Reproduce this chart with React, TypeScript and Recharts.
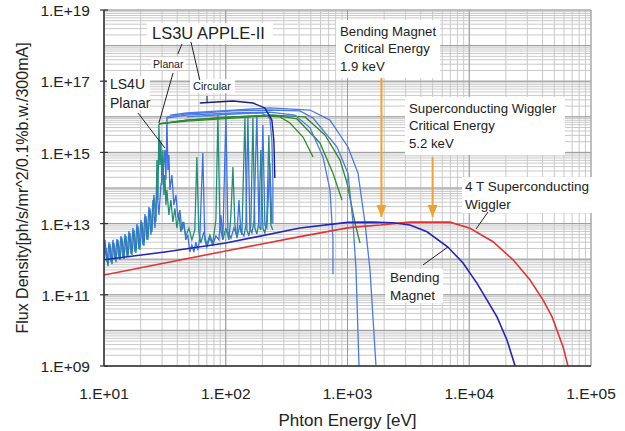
import React from 'react';
import { LineChart, Line, XAxis, YAxis, CartesianGrid, ReferenceLine, ReferenceDot, Label } from 'recharts';

// ---------- data: [photon energy eV, flux density] ----------
const bendingMagnet: [number, number][] = [
  [10, 9.6e11], [31.6, 1.6e12], [100, 2.85e12], [407, 7.5e12], [1000, 1.08e13], [1600, 1.1e13],
  [2366, 1.06e13], [3260, 9.1e12], [4500, 5.9e12], [6680, 2.2e12], [8890, 7.8e11], [11590, 2.1e11],
  [14000, 7.1e10], [16900, 2.4e10], [20400, 5.4e9], [23800, 1e9],
];
const wiggler4T: [number, number][] = [
  [10, 3.6e11], [100, 1.7e12], [407, 4.3e12], [1000, 7.6e12], [1268, 8.2e12], [1870, 9.1e12],
  [2366, 1.0e13], [3260, 1.1e13], [6950, 1.1e13], [10140, 7.4e12], [15670, 3.1e12], [22900, 9.6e11],
  [31600, 2.6e11], [40400, 7.1e10], [47900, 2.4e10], [58900, 3.5e9], [64700, 1e9],
];
const ls4uSpectrum: [number, number][] = [
  [10, 8.3e11], [10.38, 2.07e12], [10.78, 6.4e11], [11.2, 2.7e12], [11.63, 7.3e11], [12.07, 2.85e12],
  [12.54, 8.3e11], [13.02, 3.5e12], [13.53, 9.5e11], [14.05, 3.9e12], [14.59, 1.01e12], [15.15, 4.5e12],
  [15.73, 1.15e12], [16.34, 5.4e12], [16.97, 1.31e12], [17.62, 6.6e12], [18.3, 1.49e12], [19.0, 8.6e12],
  [19.73, 1.81e12], [20.5, 1.11e13], [21.28, 2.35e12], [22.1, 1.64e13], [22.96, 3.5e12], [23.84, 2.7e13],
  [24.76, 5.8e12], [25.71, 6.4e13], [26.7, 1.11e13], [27.2, 6.1e14], [27.72, 4.6e13], [28.25, 6.3e15],
  [28.79, 4.4e14], [29.34, 2.2e15], [29.9, 1.21e14], [30.47, 1.17e15], [31.05, 6.4e13], [31.64, 2.3e14],
  [32.24, 3.3e13], [32.86, 8.8e13], [34.12, 1.75e13], [35.44, 4.6e13], [36.8, 1.11e13], [38.22, 2.7e13],
  [39.69, 7.5e12], [41.21, 1.75e13], [42.8, 5.8e12], [44.4, 1.11e13], [47.0, 4.5e12], [49.8, 7.5e12],
  [52.7, 3.5e12], [55.7, 6.6e12], [57.9, 7.4e14], [60.1, 5.8e12], [62.4, 2.85e12], [66.1, 5.8e12],
  [69.9, 2.5e12], [74.0, 4.8e12], [78.3, 2.85e12], [83.0, 1.26e13], [86.2, 1.12e16], [89.5, 9.1e12],
  [94.7, 3.5e12], [100.3, 7.5e12], [106.2, 3.5e12], [110.3, 1.75e13], [114.5, 3.9e14], [118.9, 9.1e12],
  [123.5, 3.9e12], [130.7, 9.1e12], [135.7, 4.8e12], [143.6, 9.2e15], [149.2, 6.6e12], [154.9, 4.5e12],
  [160.8, 9.1e12], [167.0, 9.2e15], [173.4, 7.5e12], [180.1, 5.1e12], [187.1, 1.11e13], [194.3, 1.17e15],
  [201.8, 7.5e12], [209.6, 5.4e12], [217.6, 1.26e13], [226.0, 3.1e15], [234.7, 9.1e12], [243.7, 6.6e12],
];
const ls3uSpectrum: [number, number][] = [
  [10, 1.31e12], [10.19, 3.5e12], [10.58, 8.3e11], [10.99, 3.0e12], [11.41, 8.3e11], [11.85, 3.5e12],
  [12.3, 9.5e11], [12.78, 3.7e12], [13.27, 1.08e12], [13.78, 4.5e12], [14.31, 1.15e12], [14.87, 5.1e12],
  [15.44, 1.23e12], [16.03, 6.2e12], [16.65, 1.4e12], [17.29, 7.5e12], [17.96, 1.59e12], [18.65, 9.7e12],
  [19.37, 1.94e12], [20.11, 1.26e13], [20.89, 2.5e12], [21.69, 1.86e13], [22.53, 3.5e12], [23.39, 2.9e13],
  [24.3, 4.8e12], [25.23, 4.6e13], [26.2, 7.5e12], [27.2, 8.8e13], [28.25, 1.75e13], [29.34, 1.21e14],
  [30.47, 2.3e14], [31.64, 1.17e15], [32.24, 1.68e14], [32.86, 9.9e15], [33.48, 3.2e14], [34.12, 8.5e14],
  [34.77, 8.8e13], [36.11, 2.3e14], [37.5, 3.3e13], [38.95, 6.4e13], [40.44, 1.44e13], [42.0, 2.4e13],
  [43.6, 6.6e12], [45.3, 1.11e13], [47.0, 3.5e12], [48.8, 4.8e12], [50.7, 1.59e12], [52.7, 2.5e12],
  [54.7, 1.59e12], [56.8, 3.0e12], [59.0, 1.81e12], [61.2, 3.9e12], [64.8, 9.6e14], [67.3, 3.5e12],
  [69.9, 2.2e12], [74.0, 3.9e12], [78.3, 2.5e12], [83.0, 4.5e12], [87.8, 3.5e12], [91.2, 1.75e13],
  [94.7, 3.9e12], [100.3, 1.12e16], [104.2, 5.8e12], [110.3, 3.9e12], [116.7, 7.5e12], [123.5, 4.5e12],
  [128.3, 4.6e13], [133.2, 5.8e12], [141.0, 4.5e12], [146.4, 9.1e12], [152.0, 9.9e15], [157.8, 7.5e12],
  [163.9, 5.4e12], [170.2, 1.11e13], [180.1, 1.12e16], [187.1, 8.6e12], [194.3, 6.6e12], [201.8, 5.9e15],
  [209.6, 9.1e12], [217.6, 7.5e12], [230.3, 5.0e14], [239.2, 1.04e13], [243.7, 1.04e13],
];
const ls3uPlanarA: [number, number][] = [
  [47.9, 9.9e15], [114.5, 1.2e16], [198, 1.28e16], [230.3, 9.2e15], [239.2, 2.2e15], [243.7, 1.68e14], [243.7, 1.04e13],
];
const ls3uPlanarB: [number, number][] = [
  [32.86, 9.2e15], [47.9, 1.12e16], [114.5, 1.28e16], [230.3, 1.36e16], [370, 1.12e16], [492, 4.9e15],
  [629, 7.4e14], [718, 8.8e13], [760, 3.5e12], [760, 3.8e11],
];
const ls3uPlanarC: [number, number][] = [
  [32.86, 9.9e15], [47.9, 1.2e16], [114.5, 1.46e16], [230.3, 1.55e16], [407, 1.46e16], [521, 9.2e15],
  [820, 1.42e15], [1009, 2.6e14], [1110, 1.04e13], [1175, 5.0e11], [1243, 1e9],
];
const ls3uPlanarD: [number, number][] = [
  [34.77, 1.12e16], [47.9, 1.28e16], [114.5, 1.55e16], [230.3, 1.77e16], [492, 1.55e16], [718, 8.1e15],
  [1009, 1.42e15], [1220, 2.6e14], [1392, 1.04e13], [1530, 5.0e11], [1714, 1e9],
];
const ls4uPlanarA: [number, number][] = [
  [28.25, 6.3e15], [47.9, 7.6e15], [114.5, 9.2e15], [209.6, 1.05e16], [279, 9.9e15], [337, 6.7e15],
  [431, 2.7e15], [521, 7.4e14],
];
const ls4uPlanarB: [number, number][] = [
  [28.25, 6.3e15], [47.9, 8.1e15], [114.5, 9.9e15], [243.7, 1.12e16], [385, 8.7e15], [594, 1.84e15],
  [760, 2.6e14], [901, 4.6e13],
];
const ls4uPlanarC: [number, number][] = [
  [28.25, 6.3e15], [47.9, 8.1e15], [114.5, 9.9e15], [243.7, 1.12e16], [448, 9.9e15], [653, 3.1e15],
  [868, 6.1e14], [991, 1.38e14], [1152, 1.04e13], [1267, 2.85e12],
];
const ls3uCircular: [number, number][] = [
  [61.2, 2.44e16], [114.5, 2.78e16], [167, 2.44e16], [209.6, 1.77e16], [239.2, 8.1e15], [248.4, 2.2e15],
  [253.1, 1.9e14],
];

// tick labels
const xLabelTicks = [10, 100, 1000, 10000, 100000];
const yLabelTicks = [1e9, 1e11, 1e13, 1e15, 1e17, 1e19];
const xDecades = [10, 100, 1000, 10000, 100000];
const yDecades = [1e9, 1e10, 1e11, 1e12, 1e13, 1e14, 1e15, 1e16, 1e17, 1e18, 1e19];

const minorOf = (decades: number[]) => {
  const out: number[] = [];
  decades.forEach((d, i) => {
    out.push(d);
    if (i < decades.length - 1) for (let k = 2; k <= 9; k++) out.push(k * d);
  });
  return out;
};
const xGridTicks = minorOf(xDecades);
const yGridTicks = minorOf(yDecades);

// annotation anchors [energy, flux] (text start, first line centre)
const annotations = [
  { e: 24.8, f: 2.26e18, lines: ['LS3U APPLE-II'], size: 16.5, lh: 18, w: 126, h: 21, dx: -5, dy: -10 },
  { e: 25.3, f: 3.04e17, lines: ['Planar'], size: 10.5, lh: 12, w: 35, h: 13, dx: -2, dy: -7 },
  { e: 53.8, f: 7.3e16, lines: ['Circular'], size: 11, lh: 12, w: 45, h: 14, dx: -3, dy: -7 },
  { e: 11.2, f: 8.3e16, lines: ['LS4U', 'Planar'], size: 14, lh: 19, w: 43, h: 34, dx: -3, dy: -8 },
  { e: 868, f: 2.57e18, lines: ['Bending Magnet', 'Critical Energy', '1.9 keV'], indent: [0, 4, 0], size: 13.2, lh: 17.5, w: 104, h: 58, dx: -4, dy: -11 },
  { e: 3200, f: 1.77e16, lines: ['Superconducting Wiggler', 'Critical Energy', '5.2 keV'], size: 13.2, lh: 17.5, w: 160, h: 58, dx: -4, dy: -11 },
  { e: 9230, f: 1.14e14, lines: ['4 T Superconducting', 'Wiggler'], size: 13.5, lh: 18, w: 140, h: 36, dx: -3, dy: -9 },
  { e: 2234, f: 3.16e11, lines: ['Bending', 'Magnet'], size: 13.5, lh: 18, w: 58, h: 34, dx: -5, dy: -8 },
];
const leaders: [number, number, number, number][] = [
  [43.7, 1.11e18, 40.4, 5.8e17],
  [51.8, 1.26e18, 61.2, 1.08e17],
  [36.9, 1.7e17, 28.25, 6.7e15],
  [70.2, 3.84e16, 70.2, 2.44e16],
  [19.0, 1.28e16, 31.64, 1.33e15],
  [14260, 2.12e13, 11370, 7.05e12],
  [4170, 6.9e11, 6680, 2.2e12],
];
const arrows: [number, number, number][] = [
  [1900, 1.23e17, 1.53e13],
  [5000, 7.4e14, 1.53e13],
];

const FONT = '"Liberation Sans", Arial, sans-serif';
const toPts = (a: [number, number][]) => a.map(([e, f]) => ({ e, f }));
const expLabel = (v: number) => `1.E+${String(Math.round(Math.log10(v))).padStart(2, '0')}`;

const XTick = (props: any) => {
  const { x, y, payload } = props;
  if (!xLabelTicks.some((t) => Math.abs(t - payload.value) < 1e-6 * t)) return <g />;
  return (
    <text x={x} y={y} dy="0.71em" textAnchor="middle" fontFamily={FONT} fontSize={15.5} fill="#222">
      {expLabel(payload.value)}
    </text>
  );
};
const YTick = (props: any) => {
  const { x, y, payload } = props;
  if (!yLabelTicks.some((t) => Math.abs(t - payload.value) < 1e-6 * t)) return <g />;
  return (
    <g>
      <line x1={x + 10} x2={x + 18} y1={y} y2={y} stroke="#333" strokeWidth={1.2} />
      <text x={x} y={y} dy="0.4em" textAnchor="end" fontFamily={FONT} fontSize={15.5} fill="#222">
        {expLabel(payload.value)}
      </text>
    </g>
  );
};

const makeBox = (a: any) => (props: any) => {
  const { cx, cy } = props;
  if (cx == null || cy == null) return <g />;
  return (
    <g>
      <rect x={cx + a.dx} y={cy + a.dy} width={a.w} height={a.h} fill="#fff" />
      {a.lines.map((t: string, i: number) => (
        <text key={i} x={cx + (a.indent ? a.indent[i] : 0)} y={cy + i * a.lh} dy="0.36em"
          fontFamily={FONT} fontSize={a.size} fill="#222">
          {t}
        </text>
      ))}
    </g>
  );
};
const arrowHead = (props: any) => {
  const { cx, cy } = props;
  if (cx == null || cy == null) return <g />;
  return <polygon points={`${cx - 5},${cy - 12} ${cx + 5},${cy - 12} ${cx},${cy}`} fill="#F2A12E" />;
};

export default function App() {
  return (
    <div style={{ position: 'absolute', left: 0, top: 0, width: 625, height: 431, background: '#fff' }}>
      <LineChart width={625} height={431} margin={{ top: 10, right: 34, left: 0, bottom: 0 }}>
        <CartesianGrid stroke="#c9c9c9" strokeWidth={1} />
        <XAxis
          type="number" dataKey="e" scale="log" domain={[10, 100000]} allowDataOverflow
          ticks={xGridTicks} tick={<XTick />} tickLine={false} tickSize={0} tickMargin={22}
          height={65} axisLine={{ stroke: '#333', strokeWidth: 1.5 }} interval={0}
        >
          <Label value="Phton Energy [eV]" position="insideBottom" offset={5}
            style={{ fontFamily: FONT, fontSize: 17, fill: '#222' }} />
        </XAxis>
        <YAxis
          type="number" dataKey="f" scale="log" domain={[1e9, 1e19]} allowDataOverflow
          ticks={yGridTicks} tick={<YTick />} tickLine={false} tickSize={4} tickMargin={10}
          width={104} axisLine={{ stroke: '#333', strokeWidth: 1.5 }} interval={0}
        >
          <Label value="Flux Density[ph/s/mr^2/0.1%b.w./300mA]" angle={-90} position="insideLeft" offset={22}
            style={{ fontFamily: FONT, fontSize: 16, fill: '#222', textAnchor: 'middle' }} />
        </YAxis>

        {xDecades.map((v) => (
          <ReferenceLine key={'xd' + v} x={v} stroke="#9a9a9a" strokeWidth={1} ifOverflow="visible" zIndex={-90} />
        ))}
        {yDecades.map((v) => (
          <ReferenceLine key={'yd' + v} y={v} stroke="#9a9a9a" strokeWidth={1} ifOverflow="visible" zIndex={-90} />
        ))}

        <Line data={toPts(ls4uSpectrum)} dataKey="f" stroke="#1f8f78" strokeWidth={1.3} dot={false} isAnimationActive={false} />
        <Line data={toPts(ls3uSpectrum)} dataKey="f" stroke="#3d70e6" strokeWidth={1.3} dot={false} isAnimationActive={false} />
        <Line data={toPts(ls4uPlanarA)} dataKey="f" stroke="#2b8a2b" strokeWidth={1.3} dot={false} isAnimationActive={false} />
        <Line data={toPts(ls4uPlanarB)} dataKey="f" stroke="#2b8a2b" strokeWidth={1.3} dot={false} isAnimationActive={false} />
        <Line data={toPts(ls4uPlanarC)} dataKey="f" stroke="#2b8a2b" strokeWidth={1.3} dot={false} isAnimationActive={false} />
        <Line data={toPts(ls3uPlanarA)} dataKey="f" stroke="#4a7ae6" strokeWidth={1.3} dot={false} isAnimationActive={false} />
        <Line data={toPts(ls3uPlanarB)} dataKey="f" stroke="#4a7ae6" strokeWidth={1.3} dot={false} isAnimationActive={false} />
        <Line data={toPts(ls3uPlanarC)} dataKey="f" stroke="#4a7ae6" strokeWidth={1.3} dot={false} isAnimationActive={false} />
        <Line data={toPts(ls3uPlanarD)} dataKey="f" stroke="#4a7ae6" strokeWidth={1.3} dot={false} isAnimationActive={false} />
        <Line data={toPts(ls3uCircular)} dataKey="f" stroke="#1b1f80" strokeWidth={1.4} dot={false} isAnimationActive={false} />
        <Line data={toPts(wiggler4T)} dataKey="f" stroke="#e03535" strokeWidth={1.6} dot={false} isAnimationActive={false} />
        <Line data={toPts(bendingMagnet)} dataKey="f" stroke="#2424b8" strokeWidth={1.6} dot={false} isAnimationActive={false} />

        {annotations.map((a, i) => (
          <ReferenceDot key={'an' + i} x={a.e} y={a.f} ifOverflow="visible" shape={makeBox(a)} zIndex={2000} />
        ))}
        {leaders.map(([e1, f1, e2, f2], i) => (
          <ReferenceLine key={'ld' + i} segment={[{ x: e1, y: f1 }, { x: e2, y: f2 }]} stroke="#222" strokeWidth={1}
            ifOverflow="visible" zIndex={2000} />
        ))}
        {arrows.map(([e, f1, f2], i) => (
          <ReferenceLine key={'ar' + i} segment={[{ x: e, y: f1 }, { x: e, y: f2 }]} stroke="#F2A12E" strokeWidth={2}
            ifOverflow="visible" zIndex={2000} />
        ))}
        {arrows.map(([e, , f2], i) => (
          <ReferenceDot key={'ah' + i} x={e} y={f2} ifOverflow="visible" shape={arrowHead} zIndex={2000} />
        ))}
      </LineChart>
    </div>
  );
}
